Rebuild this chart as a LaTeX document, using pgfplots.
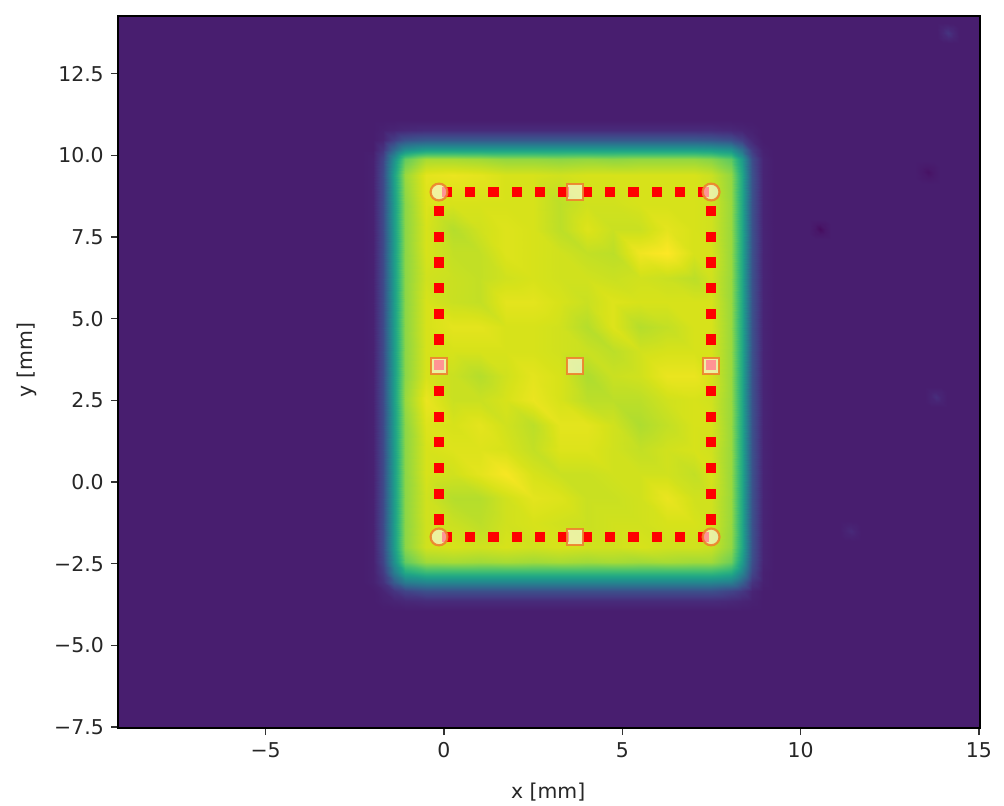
\documentclass[border=0pt]{standalone}
\usepackage{pgfplots}
\pgfplotsset{compat=1.18}
\usepackage{fontspec}
\setmainfont{DejaVu Sans}
\definecolor{mk}{RGB}{238,130,45}
\pgfplotstableread{
x y m
10.24 7.45 8
10.39 7.45 8
10.54 7.45 8
10.69 7.45 8
10.84 7.45 8
10.24 7.6 8
10.39 7.6 6.5
10.54 7.6 6
10.69 7.6 6.5
10.84 7.6 8
10.24 7.75 8
10.39 7.75 6
10.54 7.75 3
10.69 7.75 6
10.84 7.75 8
10.24 7.9 8
10.39 7.9 6.5
10.54 7.9 6
10.69 7.9 6.5
10.84 7.9 8
10.24 8.05 8
10.39 8.05 8
10.54 8.05 8
10.69 8.05 8
10.84 8.05 8
}\spotA
\pgfplotstableread{
x y m
13.22 9.14 8
13.4 9.14 8
13.57 9.14 8
13.75 9.14 8
13.92 9.14 8
13.22 9.32 8
13.4 9.32 7
13.57 9.32 6.5
13.75 9.32 7
13.92 9.32 8
13.22 9.49 8
13.4 9.49 6.5
13.57 9.49 4.5
13.75 9.49 6.5
13.92 9.49 8
13.22 9.66 8
13.4 9.66 7
13.57 9.66 6.5
13.75 9.66 7
13.92 9.66 8
13.22 9.84 8
13.4 9.84 8
13.57 9.84 8
13.75 9.84 8
13.92 9.84 8
}\spotB
\pgfplotstableread{
x y m
13.83 13.45 8
13.98 13.45 8
14.13 13.45 8
14.28 13.45 8
14.43 13.45 8
13.83 13.6 8
13.98 13.6 10
14.13 13.6 11
14.28 13.6 10
14.43 13.6 8
13.83 13.75 8
13.98 13.75 11
14.13 13.75 15
14.28 13.75 11
14.43 13.75 8
13.83 13.9 8
13.98 13.9 10
14.13 13.9 11
14.28 13.9 10
14.43 13.9 8
13.83 14.05 8
13.98 14.05 8
14.13 14.05 8
14.28 14.05 8
14.43 14.05 8
}\spotC
\pgfplotstableread{
x y m
13.5 2.3 8
13.65 2.3 8
13.8 2.3 8
13.95 2.3 8
14.1 2.3 8
13.5 2.45 8
13.65 2.45 9.5
13.8 2.45 10
13.95 2.45 9.5
14.1 2.45 8
13.5 2.6 8
13.65 2.6 10
13.8 2.6 13
13.95 2.6 10
14.1 2.6 8
13.5 2.75 8
13.65 2.75 9.5
13.8 2.75 10
13.95 2.75 9.5
14.1 2.75 8
13.5 2.9 8
13.65 2.9 8
13.8 2.9 8
13.95 2.9 8
14.1 2.9 8
}\spotD
\pgfplotstableread{
x y m
11.1 -1.8 8
11.25 -1.8 8
11.4 -1.8 8
11.55 -1.8 8
11.7 -1.8 8
11.1 -1.65 8
11.25 -1.65 9
11.4 -1.65 9.5
11.55 -1.65 9
11.7 -1.65 8
11.1 -1.5 8
11.25 -1.5 9.5
11.4 -1.5 11.5
11.55 -1.5 9.5
11.7 -1.5 8
11.1 -1.35 8
11.25 -1.35 9
11.4 -1.35 9.5
11.55 -1.35 9
11.7 -1.35 8
11.1 -1.2 8
11.25 -1.2 8
11.4 -1.2 8
11.55 -1.2 8
11.7 -1.2 8
}\spotE
\begin{document}
\begin{tikzpicture}[x=1pt,y=1pt]
\path[use as bounding box] (-59pt,-39pt) rectangle (443pt,364pt);
\begin{axis}[
  anchor=south west, at={(0pt,0pt)},
  scale only axis, width=431pt, height=356pt,
  xmin=-9.14, xmax=15.03, ymin=-7.53, ymax=14.27,
  colormap/viridis, point meta min=0, point meta max=100,
  axis on top, axis line style={black, line width=0.9pt},
  tick align=outside, tick pos=left,
  major tick length=3.6pt, tick style={black!80, line width=0.7pt},
  xtick={-5,0,5,10,15}, xticklabels={−5,0,5,10,15},
  ytick={-7.5,-5,-2.5,0,2.5,5,7.5,10,12.5},
  yticklabels={−7.5,−5.0,−2.5,0.0,2.5,5.0,7.5,10.0,12.5},
  tick label style={font=\fontsize{10.2}{12}\selectfont, text=black!85},
  label style={font=\fontsize{10.2}{12}\selectfont, text=black!85},
  xlabel={x [mm]}, ylabel={y [mm]},
  xlabel style={at={(axis description cs:0.499,-0.09)}, anchor=center},
  ylabel style={at={(axis description cs:-0.1056,0.517)}, anchor=center},
]
% background
\addplot[surf, shader=interp, mesh/cols=2, point meta=explicit] table[x=x,y=y,meta=m] {
x y m
-9.14 -7.53 8
15.03 -7.53 8
-9.14 14.27 8
15.03 14.27 8
};
% faint spots
\addplot[surf, shader=interp, mesh/cols=5, point meta=explicit] table[x=x,y=y,meta=m] {\spotA};
\addplot[surf, shader=interp, mesh/cols=5, point meta=explicit] table[x=x,y=y,meta=m] {\spotB};
\addplot[surf, shader=interp, mesh/cols=5, point meta=explicit] table[x=x,y=y,meta=m] {\spotC};
\addplot[surf, shader=interp, mesh/cols=5, point meta=explicit] table[x=x,y=y,meta=m] {\spotD};
\addplot[surf, shader=interp, mesh/cols=5, point meta=explicit] table[x=x,y=y,meta=m] {\spotE};
% illuminated field
\addplot[surf, shader=interp, mesh/cols=22, point meta=explicit] table[x=x,y=y,meta=m] {
x y m
-2.3 -3.95 8
-2 -3.95 8
-1.7 -3.95 8
-1.4 -3.95 8
-1.1 -3.95 8
-.5 -3.95 8
.25 -3.95 8
1 -3.95 8
1.75 -3.95 8
2.5 -3.95 8
3.25 -3.95 8
4 -3.95 8
4.75 -3.95 8
5.5 -3.95 8
6.25 -3.95 8
7 -3.95 8
7.5 -3.95 8
8.05 -3.95 8
8.35 -3.95 8
8.65 -3.95 8
8.95 -3.95 8
9.25 -3.95 8
-2.3 -3.65 8
-2 -3.65 8
-1.7 -3.65 9
-1.4 -3.65 10
-1.1 -3.65 11
-.5 -3.65 12
.25 -3.65 12
1 -3.65 12
1.75 -3.65 12
2.5 -3.65 12
3.25 -3.65 12
4 -3.65 12
4.75 -3.65 12
5.5 -3.65 12
6.25 -3.65 12
7 -3.65 12
7.5 -3.65 12
8.05 -3.65 11
8.35 -3.65 10
8.65 -3.65 9
8.95 -3.65 8
9.25 -3.65 8
-2.3 -3.35 8
-2 -3.35 8
-1.7 -3.35 10
-1.4 -3.35 15
-1.1 -3.35 20
-.5 -3.35 24
.25 -3.35 24
1 -3.35 24
1.75 -3.35 24
2.5 -3.35 24
3.25 -3.35 24
4 -3.35 24
4.75 -3.35 24
5.5 -3.35 24
6.25 -3.35 24
7 -3.35 24
7.5 -3.35 24
8.05 -3.35 20
8.35 -3.35 16
8.65 -3.35 10
8.95 -3.35 8
9.25 -3.35 8
-2.3 -3.05 8
-2 -3.05 9
-1.7 -3.05 14
-1.4 -3.05 29
-1.1 -3.05 42
-.5 -3.05 46
.25 -3.05 46
1 -3.05 46
1.75 -3.05 46
2.5 -3.05 46
3.25 -3.05 46
4 -3.05 46
4.75 -3.05 46
5.5 -3.05 46
6.25 -3.05 46
7 -3.05 46
7.5 -3.05 46
8.05 -3.05 43
8.35 -3.05 31
8.65 -3.05 15
8.95 -3.05 9
9.25 -3.05 8
-2.3 -2.75 8
-2 -2.75 9
-1.7 -2.75 17
-1.4 -2.75 42
-1.1 -2.75 61
-.5 -2.75 68
.25 -2.75 68
1 -2.75 68
1.75 -2.75 68
2.5 -2.75 68
3.25 -2.75 68
4 -2.75 68
4.75 -2.75 68
5.5 -2.75 68
6.25 -2.75 68
7 -2.75 68
7.5 -2.75 68
8.05 -2.75 63
8.35 -2.75 46
8.65 -2.75 21
8.95 -2.75 9
9.25 -2.75 8
-2.3 -2.45 8
-2 -2.45 9
-1.7 -2.45 20
-1.4 -2.45 50
-1.1 -2.45 76
-.5 -2.45 86
.25 -2.45 87
1 -2.45 86
1.75 -2.45 87
2.5 -2.45 86
3.25 -2.45 87
4 -2.45 86
4.75 -2.45 87
5.5 -2.45 86
6.25 -2.45 87
7 -2.45 86
7.5 -2.45 86
8.05 -2.45 78
8.35 -2.45 55
8.65 -2.45 24
8.95 -2.45 10
9.25 -2.45 8
-2.3 -2 8
-2 -2 9
-1.7 -2 22
-1.4 -2 55
-1.1 -2 83
-.5 -2 93
.25 -2 94
1 -2 93
1.75 -2 94
2.5 -2 93
3.25 -2 94
4 -2 93
4.75 -2 93
5.5 -2 94
6.25 -2 93
7 -2 93
7.5 -2 92
8.05 -2 84
8.35 -2 60
8.65 -2 25
8.95 -2 10
9.25 -2 8
-2.3 -1.25 8
-2 -1.25 9
-1.7 -1.25 22
-1.4 -1.25 55
-1.1 -1.25 83
-.5 -1.25 93
.25 -1.25 92
1 -1.25 90
1.75 -1.25 93
2.5 -1.25 94
3.25 -1.25 93
4 -1.25 92
4.75 -1.25 93
5.5 -1.25 93
6.25 -1.25 94
7 -1.25 94
7.5 -1.25 93
8.05 -1.25 85
8.35 -1.25 60
8.65 -1.25 25
8.95 -1.25 10
9.25 -1.25 8
-2.3 -.5 8
-2 -.5 9
-1.7 -.5 22
-1.4 -.5 55
-1.1 -.5 83
-.5 -.5 93
.25 -.5 89
1 -.5 89
1.75 -.5 93
2.5 -.5 96
3.25 -.5 95
4 -.5 92
4.75 -.5 92
5.5 -.5 93
6.25 -.5 97
7 -.5 93
7.5 -.5 93
8.05 -.5 85
8.35 -.5 60
8.65 -.5 25
8.95 -.5 10
9.25 -.5 8
-2.3 .25 8
-2 .25 9
-1.7 .25 22
-1.4 .25 55
-1.1 .25 83
-.5 .25 94
.25 .25 93
1 .25 96
1.75 .25 99
2.5 .25 94
3.25 .25 92
4 .25 92
4.75 .25 93
5.5 .25 93
6.25 .25 93
7 .25 91
7.5 .25 94
8.05 .25 85
8.35 .25 60
8.65 .25 25
8.95 .25 10
9.25 .25 8
-2.3 1 8
-2 1 9
-1.7 1 22
-1.4 1 55
-1.1 1 83
-.5 1 94
.25 1 95
1 1 95
1.75 1 94
2.5 1 91
3.25 1 95
4 1 95
4.75 1 93
5.5 1 91
6.25 1 93
7 1 94
7.5 1 93
8.05 1 85
8.35 1 60
8.65 1 25
8.95 1 10
9.25 1 8
-2.3 1.75 8
-2 1.75 9
-1.7 1.75 22
-1.4 1.75 55
-1.1 1.75 83
-.5 1.75 95
.25 1.75 94
1 1.75 96
1.75 1.75 93
2.5 1.75 90
3.25 1.75 96
4 1.75 96
4.75 1.75 93
5.5 1.75 88
6.25 1.75 91
7 1.75 94
7.5 1.75 94
8.05 1.75 85
8.35 1.75 60
8.65 1.75 25
8.95 1.75 10
9.25 1.75 8
-2.3 2.5 8
-2 2.5 9
-1.7 2.5 22
-1.4 2.5 56
-1.1 2.5 85
-.5 2.5 97
.25 2.5 92
1 2.5 92
1.75 2.5 94
2.5 2.5 97
3.25 2.5 94
4 2.5 90
4.75 2.5 90
5.5 2.5 90
6.25 2.5 93
7 2.5 94
7.5 2.5 93
8.05 2.5 85
8.35 2.5 60
8.65 2.5 25
8.95 2.5 10
9.25 2.5 8
-2.3 3.25 8
-2 3.25 9
-1.7 3.25 22
-1.4 3.25 55
-1.1 3.25 83
-.5 3.25 94
.25 3.25 92
1 3.25 89
1.75 3.25 93
2.5 3.25 96
3.25 3.25 94
4 3.25 88
4.75 3.25 92
5.5 3.25 93
6.25 3.25 97
7 3.25 97
7.5 3.25 94
8.05 3.25 85
8.35 3.25 60
8.65 3.25 25
8.95 3.25 10
9.25 3.25 8
-2.3 4 8
-2 4 9
-1.7 4 22
-1.4 4 55
-1.1 4 83
-.5 4 94
.25 4 94
1 4 94
1.75 4 94
2.5 4 94
3.25 4 93
4 4 92
4.75 4 90
5.5 4 93
6.25 4 94
7 4 94
7.5 4 94
8.05 4 85
8.35 4 60
8.65 4 25
8.95 4 10
9.25 4 8
-2.3 4.75 8
-2 4.75 9
-1.7 4.75 22
-1.4 4.75 55
-1.1 4.75 83
-.5 4.75 94
.25 4.75 96
1 4.75 96
1.75 4.75 94
2.5 4.75 94
3.25 4.75 93
4 4.75 89
4.75 4.75 95
5.5 4.75 89
6.25 4.75 91
7 4.75 94
7.5 4.75 94
8.05 4.75 85
8.35 4.75 60
8.65 4.75 25
8.95 4.75 10
9.25 4.75 8
-2.3 5.5 8
-2 5.5 9
-1.7 5.5 22
-1.4 5.5 55
-1.1 5.5 83
-.5 5.5 94
.25 5.5 92
1 5.5 91
1.75 5.5 96
2.5 5.5 96
3.25 5.5 94
4 5.5 92
4.75 5.5 95
5.5 5.5 94
6.25 5.5 94
7 5.5 94
7.5 5.5 94
8.05 5.5 85
8.35 5.5 60
8.65 5.5 25
8.95 5.5 10
9.25 5.5 8
-2.3 6.25 8
-2 6.25 9
-1.7 6.25 22
-1.4 6.25 55
-1.1 6.25 83
-.5 6.25 93
.25 6.25 92
1 6.25 91
1.75 6.25 93
2.5 6.25 94
3.25 6.25 93
4 6.25 93
4.75 6.25 92
5.5 6.25 93
6.25 6.25 92
7 6.25 90
7.5 6.25 93
8.05 6.25 85
8.35 6.25 60
8.65 6.25 25
8.95 6.25 10
9.25 6.25 8
-2.3 7 8
-2 7 9
-1.7 7 22
-1.4 7 55
-1.1 7 83
-.5 7 94
.25 7 91
1 7 91
1.75 7 95
2.5 7 94
3.25 7 93
4 7 91
4.75 7 90
5.5 7 98
6.25 7 100
7 7 94
7.5 7 94
8.05 7 85
8.35 7 60
8.65 7 25
8.95 7 10
9.25 7 8
-2.3 7.75 8
-2 7.75 9
-1.7 7.75 22
-1.4 7.75 55
-1.1 7.75 83
-.5 7.75 94
.25 7.75 89
1 7.75 93
1.75 7.75 95
2.5 7.75 94
3.25 7.75 90
4 7.75 95
4.75 7.75 92
5.5 7.75 92
6.25 7.75 96
7 7.75 94
7.5 7.75 93
8.05 7.75 85
8.35 7.75 60
8.65 7.75 25
8.95 7.75 10
9.25 7.75 8
-2.3 8.5 8
-2 8.5 9
-1.7 8.5 22
-1.4 8.5 55
-1.1 8.5 83
-.5 8.5 95
.25 8.5 94
1 8.5 94
1.75 8.5 94
2.5 8.5 94
3.25 8.5 90
4 8.5 93
4.75 8.5 93
5.5 8.5 94
6.25 8.5 94
7 8.5 94
7.5 8.5 93
8.05 8.5 85
8.35 8.5 60
8.65 8.5 25
8.95 8.5 10
9.25 8.5 8
-2.3 9.4 8
-2 9.4 9
-1.7 9.4 22
-1.4 9.4 57
-1.1 9.4 85
-.5 9.4 96
.25 9.4 97
1 9.4 96
1.75 9.4 94
2.5 9.4 94
3.25 9.4 93
4 9.4 94
4.75 9.4 94
5.5 9.4 94
6.25 9.4 94
7 9.4 94
7.5 9.4 92
8.05 9.4 84
8.35 9.4 60
8.65 9.4 25
8.95 9.4 10
9.25 9.4 8
-2.3 9.88 8
-2 9.88 9
-1.7 9.88 20
-1.4 9.88 50
-1.1 9.88 76
-.5 9.88 87
.25 9.88 87
1 9.88 86
1.75 9.88 84
2.5 9.88 84
3.25 9.88 83
4 9.88 84
4.75 9.88 83
5.5 9.88 84
6.25 9.88 84
7 9.88 84
7.5 9.88 82
8.05 9.88 75
8.35 9.88 54
8.65 9.88 23
8.95 9.88 10
9.25 9.88 8
-2.3 10.18 8
-2 10.18 8
-1.7 10.18 15
-1.4 10.18 34
-1.1 10.18 50
-.5 10.18 57
.25 10.18 57
1 10.18 57
1.75 10.18 57
2.5 10.18 57
3.25 10.18 57
4 10.18 57
4.75 10.18 57
5.5 10.18 57
6.25 10.18 57
7 10.18 57
7.5 10.18 56
8.05 10.18 52
8.35 10.18 37
8.65 10.18 17
8.95 10.18 9
9.25 10.18 8
-2.3 10.48 8
-2 10.48 8
-1.7 10.48 10
-1.4 10.48 18
-1.1 10.48 25
-.5 10.48 28
.25 10.48 28
1 10.48 28
1.75 10.48 28
2.5 10.48 28
3.25 10.48 28
4 10.48 28
4.75 10.48 28
5.5 10.48 28
6.25 10.48 28
7 10.48 28
7.5 10.48 27
8.05 10.48 24
8.35 10.48 18
8.65 10.48 11
8.95 10.48 8
9.25 10.48 8
-2.3 10.78 8
-2 10.78 8
-1.7 10.78 9
-1.4 10.78 10
-1.1 10.78 11
-.5 10.78 12
.25 10.78 12
1 10.78 12
1.75 10.78 12
2.5 10.78 12
3.25 10.78 12
4 10.78 12
4.75 10.78 12
5.5 10.78 12
6.25 10.78 12
7 10.78 12
7.5 10.78 12
8.05 10.78 11
8.35 10.78 10
8.65 10.78 9
8.95 10.78 8
9.25 10.78 8
-2.3 11.08 8
-2 11.08 8
-1.7 11.08 8
-1.4 11.08 8
-1.1 11.08 8
-.5 11.08 8
.25 11.08 8
1 11.08 8
1.75 11.08 8
2.5 11.08 8
3.25 11.08 8
4 11.08 8
4.75 11.08 8
5.5 11.08 8
6.25 11.08 8
7 11.08 8
7.5 11.08 8
8.05 11.08 8
8.35 11.08 8
8.65 11.08 8
8.95 11.08 8
9.25 11.08 8
};
% red dots
\addplot[only marks, mark=square*, mark size=2.35pt, mark options={fill=red, draw=red, line width=0pt}] coordinates {
(.084,8.88) (.738,8.88) (1.392,8.88) (2.046,8.88) (2.70,8.88) (3.354,8.88)
(4.008,8.88) (4.662,8.88) (5.316,8.88) (5.97,8.88) (6.624,8.88) (7.278,8.88)
(.084,-1.68) (.738,-1.68) (1.392,-1.68) (2.046,-1.68) (2.70,-1.68) (3.354,-1.68)
(4.008,-1.68) (4.662,-1.68) (5.316,-1.68) (5.97,-1.68) (6.624,-1.68) (7.278,-1.68)
(-.14,8.30) (-.14,7.51) (-.14,6.72) (-.14,5.94) (-.14,5.15) (-.14,4.36) (-.14,3.58)
(-.14,2.79) (-.14,2.00) (-.14,1.22) (-.14,.43) (-.14,-.36) (-.14,-1.15)
(7.49,8.30) (7.49,7.51) (7.49,6.72) (7.49,5.94) (7.49,5.15) (7.49,4.36) (7.49,3.58)
(7.49,2.79) (7.49,2.00) (7.49,1.22) (7.49,.43) (7.49,-.36) (7.49,-1.15)
};
% corner circles
\addplot[only marks, mark=*, mark size=4.2pt, mark options={fill=white, fill opacity=.58, draw=mk, draw opacity=.9, line width=1.1pt}] coordinates {
(-.14,8.88) (7.49,8.88) (-.14,-1.68) (7.49,-1.68)
};
% mid squares
\addplot[only marks, mark=square*, mark size=4pt, mark options={fill=white, fill opacity=.58, draw=mk, draw opacity=.9, line width=1.1pt}] coordinates {
(3.68,8.88) (3.68,-1.68) (-.14,3.55) (7.49,3.55) (3.68,3.55)
};
\end{axis}
\end{tikzpicture}
\end{document}
